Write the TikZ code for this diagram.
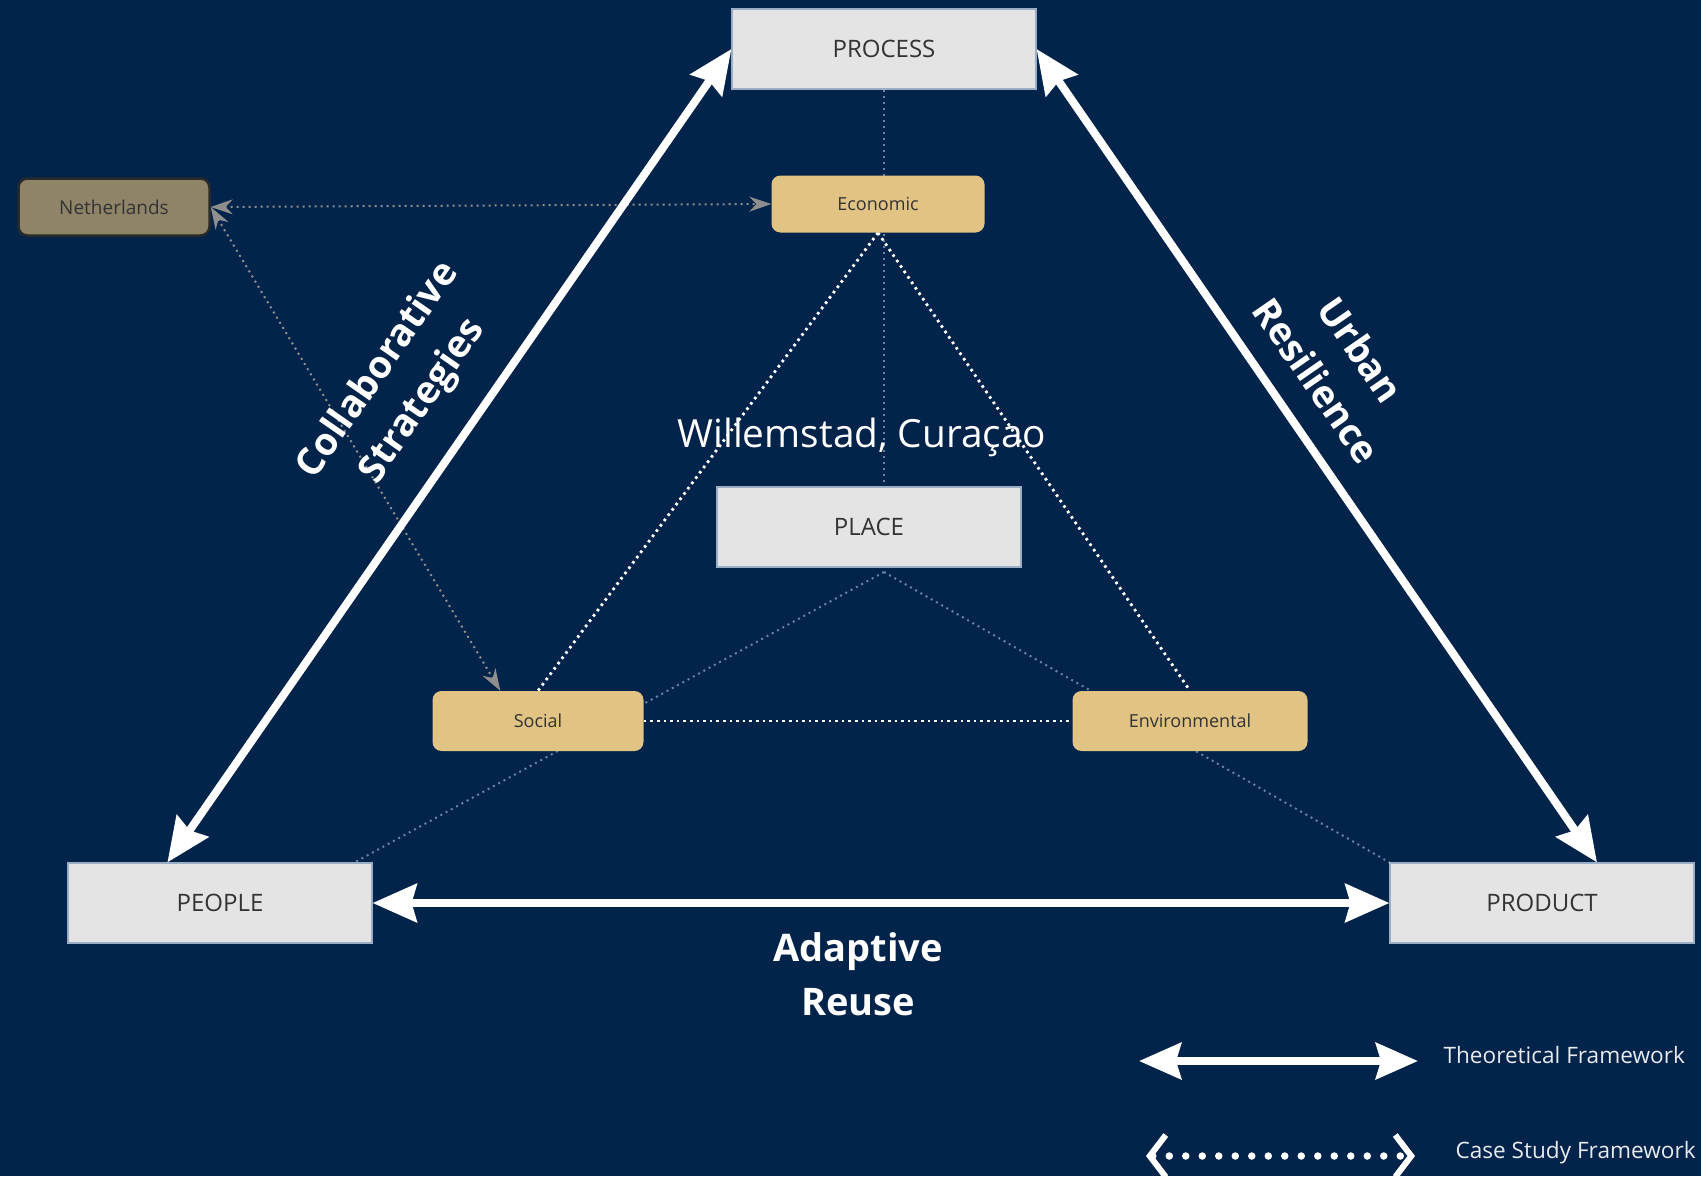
\documentclass[tikz,border=0pt]{standalone}
\usepackage{fontspec}
\setmainfont{Open Sans}
\usetikzlibrary{arrows.meta,calc}

\definecolor{navy}{HTML}{02234A}
\definecolor{boxgray}{HTML}{E4E4E4}
\definecolor{boxedge}{HTML}{9AAEC6}
\definecolor{tan}{HTML}{E1C383}
\definecolor{olive}{HTML}{8F8468}
\definecolor{oliveedge}{HTML}{2A2A2A}
\definecolor{faint}{HTML}{6A82A3}
\definecolor{arrowgray}{HTML}{8E8E8E}
\definecolor{labeltext}{HTML}{333333}
\definecolor{legendtext}{HTML}{E8EAEE}

\pgfdeclarelayer{canvas}
\pgfdeclarelayer{links}
\pgfsetlayers{canvas,links,main}

\begin{document}
\begin{tikzpicture}[x=1pt,y=-1pt,
  pillar/.style={draw=boxedge, line width=1.2pt, fill=boxgray,
    minimum width=304pt, minimum height=80pt, inner sep=0pt,
    text=labeltext, font=\fontsize{24}{28}\selectfont},
  facet/.style={fill=tan, rounded corners=9pt, minimum height=57pt,
    inner sep=0pt, text=labeltext, font=\fontsize{18}{22}\selectfont},
  frame/.style={draw=white, line width=8pt,
    arrows={Stealth[length=44pt,width=38pt,inset=5pt]-Stealth[length=44pt,width=38pt,inset=5pt]}},
  whitedots/.style={draw=white, line width=2.8pt, dash pattern=on 2.6pt off 4pt},
  faintdots/.style={draw=faint, line width=2pt, dash pattern=on 2pt off 4pt},
  graylink/.style={draw=arrowgray, line width=2pt, dash pattern=on 2pt off 4pt,
    arrows={Stealth[length=22pt,width=15pt]-Stealth[length=22pt,width=15pt]}},
  casedots/.style={draw=white, line width=7.5pt, line cap=round, dash pattern=on 0pt off 16.5pt,
    arrows={Straight Barb[length=16pt,width=42pt,line width=6pt]-Straight Barb[length=16pt,width=42pt,line width=6pt]}},
  bigword/.style={text=white, font=\fontsize{38}{54}\selectfont\bfseries, align=center},
  legendlabel/.style={text=legendtext, anchor=west, font=\fontsize{22.6}{26}\selectfont}
]
\begin{pgfonlayer}{canvas}
  \fill[navy] (0,0) rectangle (1701,1176);
\end{pgfonlayer}
\useasboundingbox (0,0) rectangle (1701,1176);

% the four pillars
\node[pillar] (process) at (884,49) {PROCESS};
\node[pillar] (place) at (869,527) {PLACE};
\node[pillar] (people) at (220,903) {PEOPLE};
\node[pillar] (product) at (1542,903) {PRODUCT};

% the three facets and the external actor
\node[facet, minimum width=213pt] (economic) at (878,204) {Economic};
\node[facet, minimum width=211pt, minimum height=60pt] (social) at (538,721) {Social};
\node[facet, minimum width=235pt, minimum height=60pt] (env) at (1190,721) {Environmental};
\node[facet, fill=olive, draw=oliveedge, line width=2.5pt, minimum width=191pt,
  font=\fontsize{19}{22}\selectfont] (neth) at (114,207) {Netherlands};

\coordinate (placefoot) at (884,572);
\coordinate (socialtop) at ([xshift=68pt]social.north west);
\coordinate (peopletop) at ([xshift=100pt]people.north west);
\coordinate (producttop) at ([xshift=55pt]product.north);

% case-study links, behind the boxes
\begin{pgfonlayer}{links}
  \draw[faintdots] (process.south) -- (process.south |- place.north);
  \draw[faintdots] (placefoot) -- ([xshift=-18pt]people.north east);
  \draw[faintdots] (placefoot) -- (product.north west);
  \draw[whitedots] (economic.south) -- (social.north);
  \draw[whitedots] (economic.south) -- (env.north);
  \draw[whitedots] (social.east) -- (env.west);
  \draw[graylink] (neth.east) -- (economic.west);
  \draw[graylink] (neth.east) -- (socialtop);
\end{pgfonlayer}

% theoretical framework
\draw[frame] (peopletop) -- (process.west);
\draw[frame] (process.east) -- (producttop);
\draw[frame] (people.east) -- (product.west);

\node[bigword, rotate=55.2] (collab) at (401,386) {Collaborative\\Strategies};
\node[bigword, rotate=-55.3] (urban) at (1339,365) {Urban\\Resilience};
\node[bigword] (reuse) at (858,974) {Adaptive\\Reuse};
\node[text=white, font=\fontsize{38.8}{44}\selectfont] (city) at (862,437) {Willemstad, Curaçao};

% legend
\coordinate (ta) at (1139,1061);
\coordinate (tb) at (1418,1061);
\coordinate (ca) at (1146,1156);
\coordinate (cb) at (1415,1156);
\draw[frame, arrows={Stealth[length=42pt,width=36pt,inset=5pt]-Stealth[length=42pt,width=36pt,inset=5pt]}] (ta) -- (tb);
\draw[casedots] (ca) -- (cb);
\node[legendlabel] (tlabel) at (1440,1055) {Theoretical Framework};
\node[legendlabel] (clabel) at (1452,1153) {Case Study Framework};
\end{tikzpicture}
\end{document}
